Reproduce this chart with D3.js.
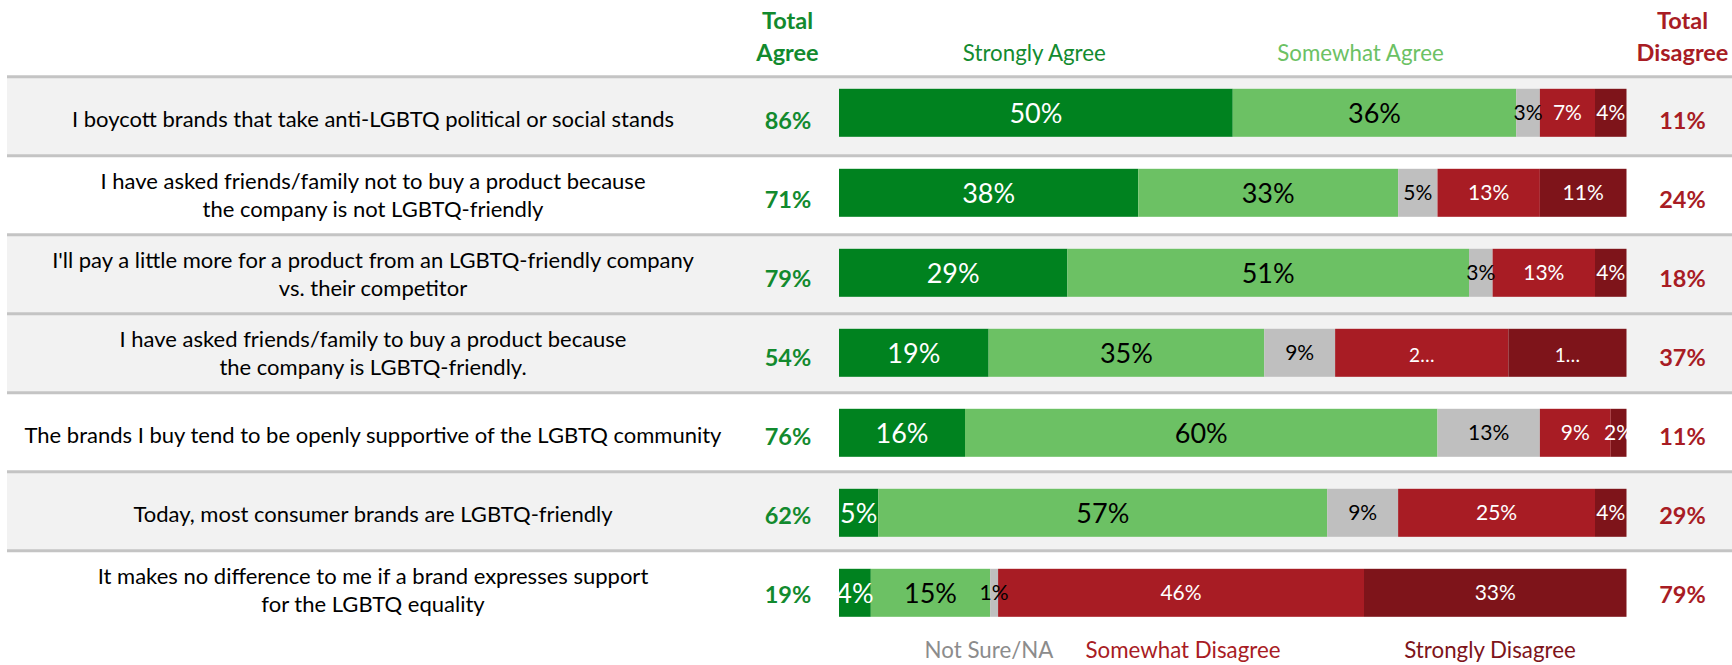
<!DOCTYPE html>
<html>
<head>
<meta charset="utf-8">
<script src="https://cdn.jsdelivr.net/npm/d3@7"></script>
<style>
  html, body { margin: 0; padding: 0; background: #ffffff; }
  svg { display: block; font-family: Lato, "Open Sans", sans-serif; }
</style>
</head>
<body>
<svg id="chart" width="1732" height="665"></svg>
<script>
// ---------------- DATA ----------------
const statements = [
  ["I boycott brands that take anti-LGBTQ political or social stands"],
  ["I have asked friends/family not to buy a product because", "the company is not LGBTQ-friendly"],
  ["I'll pay a little more for a product from an LGBTQ-friendly company", "vs. their competitor"],
  ["I have asked friends/family to buy a product because", "the company is LGBTQ-friendly."],
  ["The brands I buy tend to be openly supportive of the LGBTQ community"],
  ["Today, most consumer brands are LGBTQ-friendly"],
  ["It makes no difference to me if a brand expresses support", "for the LGBTQ equality"]
];
const seriesNames = ["Strongly Agree", "Somewhat Agree", "Not Sure/NA", "Somewhat Disagree", "Strongly Disagree"];
const stronglyAgree    = [50, 38, 29, 19, 16,  5,  4];
const somewhatAgree    = [36, 33, 51, 35, 60, 57, 15];
const notSure          = [ 3,  5,  3,  9, 13,  9,  1];
const somewhatDisagree = [ 7, 13, 13, 22,  9, 25, 46];
const stronglyDisagree = [ 4, 11,  4, 15,  2,  4, 33];
const totalAgree       = [86, 71, 79, 54, 76, 62, 19];
const totalDisagree    = [11, 24, 18, 37, 11, 29, 79];
// labels shown truncated in the original ("row-series": text)
const truncatedLabels = { "3-3": "2\u2026", "3-4": "1\u2026" };

// ---------------- STYLE ----------------
const W = 1732, H = 665;
const colors = ["#00821f", "#6cc164", "#bfbfbf", "#a81c24", "#7e141a"];
const labelColors = ["#ffffff", "#000000", "#000000", "#ffffff", "#ffffff"];
const labelSizes = [27, 27, 21, 21, 21];
const shaded = [true, false, true, true, false, true, false];
const agreeGreen = "#128a2e", disagreeRed = "#a81c24";

const svg = d3.select("#chart");

// table of rows built from the arrays
const rows = statements.map((s, i) => ({
  idx: i, text: s,
  "Strongly Agree": stronglyAgree[i],
  "Somewhat Agree": somewhatAgree[i],
  "Not Sure/NA": notSure[i],
  "Somewhat Disagree": somewhatDisagree[i],
  "Strongly Disagree": stronglyDisagree[i],
  ta: totalAgree[i], td: totalDisagree[i]
}));

// scales
const rowY = d3.scaleBand().domain(d3.range(rows.length)).range([76.7, 76.7 + 79 * rows.length]).paddingInner(0).paddingOuter(0);
const barY = d3.scaleBand().domain(d3.range(rows.length)).range([72.8, 72.8 + 80 * rows.length]).paddingInner(0.4).paddingOuter(0.2);
const x = d3.scaleLinear().domain([0, 1]).range([839, 1626.5]);

// stacked (normalised) series
const stack = d3.stack().keys(seriesNames).offset(d3.stackOffsetExpand);
const series = stack(rows);

// row backgrounds
svg.append("g").selectAll("rect").data(rows).join("rect")
  .attr("x", 7).attr("width", W - 7)
  .attr("y", d => rowY(d.idx)).attr("height", rowY.bandwidth())
  .attr("fill", d => shaded[d.idx] ? "#f2f2f2" : "#ffffff");

// separators
svg.append("g").selectAll("line").data(rows).join("line")
  .attr("x1", 7).attr("x2", W)
  .attr("y1", d => rowY(d.idx)).attr("y2", d => rowY(d.idx))
  .attr("stroke", "#c4c4c4").attr("stroke-width", 3);

// bars
const segG = svg.append("g").selectAll("g").data(series).join("g")
  .attr("fill", (d, i) => colors[i]);
segG.selectAll("rect").data(d => d).join("rect")
  .attr("x", d => x(d[0]))
  .attr("width", d => x(d[1]) - x(d[0]))
  .attr("y", d => barY(d.data.idx))
  .attr("height", barY.bandwidth());

// segment labels
const lblG = svg.append("g").selectAll("g").data(series).join("g");
lblG.each(function(s, si) {
  d3.select(this).selectAll("text").data(s).join("text")
    .attr("x", d => (x(d[0]) + x(d[1])) / 2)
    .attr("y", d => barY(d.data.idx) + barY.bandwidth() / 2)
    .attr("dy", d => truncatedLabels[d.data.idx + "-" + si] ? "0.5em" : "0.36em")
    .attr("text-anchor", "middle")
    .attr("fill", labelColors[si])
    .attr("font-size", d => truncatedLabels[d.data.idx + "-" + si] ? 19 : labelSizes[si])
    .text(d => truncatedLabels[d.data.idx + "-" + si] || (d.data[s.key] + "%"));
});

// statement text
const stG = svg.append("g").selectAll("text").data(rows).join("text")
  .attr("text-anchor", "middle")
  .attr("font-size", 22)
  .attr("fill", "#000");
stG.each(function(d) {
  const c = rowY(d.idx) + rowY.bandwidth() / 2;
  const t = d3.select(this);
  if (d.text.length === 1) {
    t.append("tspan").attr("x", 373).attr("y", c + 10.5).text(d.text[0]);
  } else {
    t.append("tspan").attr("x", 373).attr("y", c - 6).text(d.text[0]);
    t.append("tspan").attr("x", 373).attr("y", c + 21.7).text(d.text[1]);
  }
});

// totals
svg.append("g").selectAll("text").data(rows).join("text")
  .attr("x", 788).attr("y", d => rowY(d.idx) + rowY.bandwidth() / 2 + 12.5)
  .attr("text-anchor", "middle").attr("font-weight", 700).attr("font-size", 23.5)
  .attr("fill", agreeGreen).text(d => d.ta + "%");
svg.append("g").selectAll("text").data(rows).join("text")
  .attr("x", 1682.5).attr("y", d => rowY(d.idx) + rowY.bandwidth() / 2 + 12.5)
  .attr("text-anchor", "middle").attr("font-weight", 700).attr("font-size", 23.5)
  .attr("fill", disagreeRed).text(d => d.td + "%");

// headers
const hdr = [
  { lines: ["Total", "Agree"], x: 787.5, color: agreeGreen },
  { lines: ["Total", "Disagree"], x: 1682.5, color: disagreeRed }
];
hdr.forEach(h => {
  const t = svg.append("text").attr("text-anchor", "middle").attr("font-weight", 700)
    .attr("font-size", 23.5).attr("fill", h.color);
  t.append("tspan").attr("x", h.x).attr("y", 29.3).text(h.lines[0]);
  t.append("tspan").attr("x", h.x).attr("y", 60.7).text(h.lines[1]);
});

// legend labels
const legendTop = [
  { name: seriesNames[0], x: 1034.3, y: 60.7, color: "#138b2f" },
  { name: seriesNames[1], x: 1360.5, y: 60.7, color: "#6cc164" }
];
const legendBottom = [
  { name: seriesNames[2], x: 989, y: 658, color: "#8c8c8c" },
  { name: seriesNames[3], x: 1183, y: 658, color: "#a81c24" },
  { name: seriesNames[4], x: 1490, y: 658, color: "#7e141a" }
];
svg.append("g").selectAll("text").data(legendTop.concat(legendBottom)).join("text")
  .attr("x", d => d.x).attr("y", d => d.y)
  .attr("text-anchor", "middle").attr("font-size", 22.3)
  .attr("fill", d => d.color).text(d => d.name);
</script>
</body>
</html>
